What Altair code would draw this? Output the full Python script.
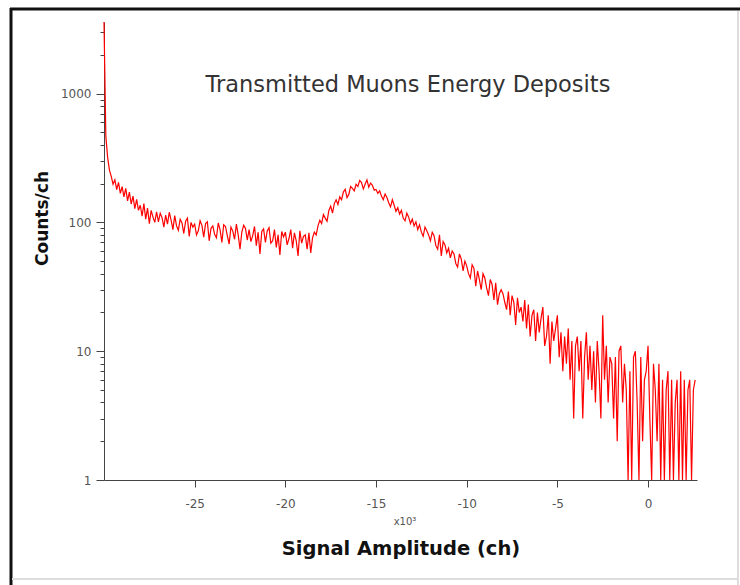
import altair as alt
import pandas as pd

# Histogram of transmitted muon energy deposits (x in units of 10^3 ch)
BIN_START = -30.0
BIN_WIDTH = 0.1

counts_edge = [3600, 470, 320, 255, 228, 198, 214, 180, 205, 168,
               190, 158, 184, 147, 172, 139, 160, 128, 151, 124,
               136, 112, 140, 106, 129, 98, 124, 110, 100, 121]
counts_plateau = [101, 118, 109, 92, 114, 97, 120, 104, 88, 113,
                  94, 87, 106, 99, 82, 102, 108, 78, 100, 92,
                  97, 80, 86, 103, 95, 77, 98, 101, 72, 90,
                  94, 81, 76, 99, 88, 70, 96, 93, 79, 68,
                  92, 86, 74, 97, 80, 62, 84, 95, 90, 73,
                  88, 71, 79, 93, 66, 84, 57, 85, 89, 70,
                  86, 91, 69, 72, 88, 64, 80, 56, 85, 77,
                  84, 67, 75, 88, 63, 83, 72, 55, 86, 69,
                  78, 80, 62, 83, 58, 76, 84, 80, 94, 104]
counts_peak = [98, 115, 108, 102, 124, 134, 118, 140, 150, 138,
               158, 150, 172, 181, 156, 165, 190, 184, 176, 198,
               190, 212, 204, 182, 198, 214, 188, 202, 194, 178,
               180, 168, 176, 160, 150, 166, 156, 142, 132, 150,
               136, 122, 130, 116, 124, 108, 103, 118, 110, 98,
               106, 94, 101, 88, 96, 84, 78, 92, 86, 80]
counts_slope = [72, 84, 79, 66, 62, 80, 55, 71, 67, 58,
                63, 53, 60, 57, 48, 45, 57, 52, 42, 50,
                46, 40, 37, 47, 44, 32, 42, 36, 30, 40,
                37, 31, 27, 36, 33, 25, 34, 23, 28, 30,
                28, 24, 21, 29, 19, 27, 24, 16, 26, 20,
                22, 17, 25, 15, 23, 13, 19, 21, 12, 20,
                14, 18, 22, 11, 13, 19, 8, 17, 12, 15]
counts_tail = [19, 9, 14, 7, 13, 8, 15, 6, 12, 3,
               11, 13, 7, 12, 3, 9, 14, 6, 11, 5,
               10, 4, 12, 7, 3, 19, 6, 11, 4, 9,
               8, 3, 9, 2, 10, 11, 4, 8, 5, 1,
               7, 1, 9, 10, 4, 1, 9, 2, 6, 7,
               11, 3, 1, 8, 5, 2, 8, 1, 6, 1,
               5, 7, 1, 6, 1, 4, 6, 1, 7, 1,
               6, 1, 5, 6, 1, 5, 6]

x_tick_values = [-25, -20, -15, -10, -5, 0]
y_major = [1, 10, 100, 1000]
y_tick_values = [1, 2, 3, 4, 5, 6, 7, 8, 9,
                 10, 20, 30, 40, 50, 60, 70, 80, 90,
                 100, 200, 300, 400, 500, 600, 700, 800, 900,
                 1000, 2000, 3000]

counts = counts_edge + counts_plateau + counts_peak + counts_slope + counts_tail
df = pd.DataFrame({
    "amp": [round(BIN_START + BIN_WIDTH * i, 1) for i in range(len(counts))],
    "counts": counts,
})

W, H = 593, 458
FONT = "DejaVu Sans"

major_test = "indexof(" + str(y_major) + ", datum.value) >= 0"

line = alt.Chart(df).mark_line(color="#ff0000", strokeWidth=1.2).encode(
    x=alt.X("amp:Q",
            scale=alt.Scale(domain=[-30.0, 2.7], nice=False, zero=False),
            axis=alt.Axis(values=x_tick_values, labelExpr="'' + datum.value",
                          title="Signal Amplitude (ch)", titleFont=FONT,
                          titleFontSize=19.5, titleFontWeight="bold", titleColor="#111",
                          titleY=68, titleBaseline="middle",
                          labelFont=FONT, labelFontSize=12, labelColor="#555",
                          labelPadding=11, tickSize=7, tickColor="#444",
                          domainColor="#444", grid=False)),
    y=alt.Y("counts:Q",
            scale=alt.Scale(type="log", domain=[1, 3600], nice=False),
            axis=alt.Axis(values=y_tick_values,
                          labelExpr="indexof(" + str(y_major) + ", datum.value) >= 0 ? '' + datum.value : ''",
                          title="Counts/ch", titleFont=FONT, titleFontSize=17,
                          titleFontWeight="bold", titleColor="#111",
                          titleX=-62, titleY=196, titleBaseline="middle", titleAlign="center",
                          labelFont=FONT, labelFontSize=12, labelColor="#555",
                          labelPadding=5,
                          tickSize={"condition": {"test": major_test, "value": 8}, "value": 4},
                          tickColor="#444", domainColor="#444", grid=False)),
)

one = pd.DataFrame({"k": [0]})

title_txt = alt.Chart(one).mark_text(
    text="Transmitted Muons Energy Deposits", font=FONT, fontSize=22.5, color="#333"
).encode(x=alt.value(304), y=alt.value(63))

mult_txt = alt.Chart(one).mark_text(
    text="x10³", font=FONT, fontSize=10, color="#555"
).encode(x=alt.value(301), y=alt.value(500))

frame_left = alt.Chart(one).mark_rule(color="#111", strokeWidth=3).encode(
    x=alt.value(-93), y=alt.value(-14), y2=alt.value(563))
frame_top = alt.Chart(one).mark_rule(color="#111", strokeWidth=3).encode(
    x=alt.value(-94), x2=alt.value(636), y=alt.value(-13))
frame_right = alt.Chart(one).mark_rule(color="#ddd", strokeWidth=2).encode(
    x=alt.value(634), y=alt.value(-11), y2=alt.value(563))
frame_bottom = alt.Chart(one).mark_rule(color="#ddd", strokeWidth=2).encode(
    x=alt.value(-92), x2=alt.value(634), y=alt.value(557))

chart = alt.layer(
    frame_left, frame_top, frame_right, frame_bottom, line, title_txt, mult_txt
).properties(
    width=W, height=H,
    autosize=alt.AutoSizeParams(type="none"),
    padding={"left": 104, "top": 22, "right": 43, "bottom": 105},
    background="white",
).configure_view(stroke=None)

chart.save("out.html", embed_options={"renderer": "svg", "actions": False})
